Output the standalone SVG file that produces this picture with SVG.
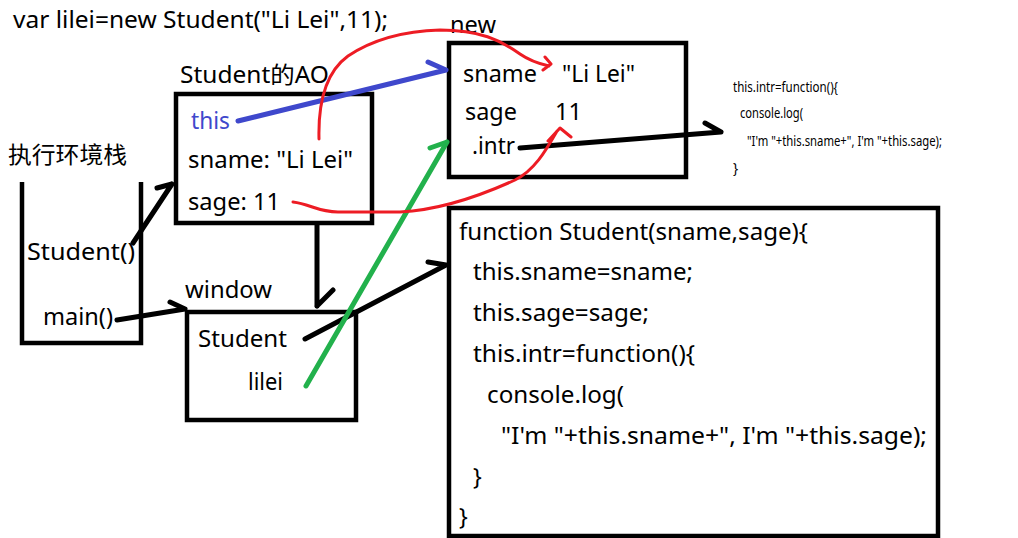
<svg xmlns="http://www.w3.org/2000/svg" width="1018" height="538" viewBox="0 0 1018 538">
<defs>
<style>
text{font-family:"Noto Sans","Noto Sans CJK SC",sans-serif;font-size:23px;fill:#000}
.sm{font-size:13.5px}
.box{fill:none;stroke:#000;stroke-width:4.5}
.k{fill:none;stroke:#000;stroke-width:5;stroke-linecap:round;stroke-linejoin:round}
.b{fill:none;stroke:#3f48cc;stroke-width:5;stroke-linecap:round;stroke-linejoin:round}
.g{fill:none;stroke:#22b14c;stroke-width:5;stroke-linecap:round;stroke-linejoin:round}
.r{fill:none;stroke:#ed1c24;stroke-width:3;stroke-linecap:round;stroke-linejoin:round}
</style>
</defs>
<rect width="1018" height="538" fill="#fff"/>
<text x="13" y="28" textLength="375" lengthAdjust="spacingAndGlyphs">var lilei=new Student("Li Lei",11);</text>

<g id="stack">
<text x="8" y="163" textLength="119" lengthAdjust="spacingAndGlyphs">执行环境栈</text>
<polyline class="box" points="22,182 22,343 141,343 141,182" stroke-width="5"/>
<text x="27" y="260" textLength="108" lengthAdjust="spacingAndGlyphs">Student()</text>
<text x="43" y="325" textLength="70" lengthAdjust="spacingAndGlyphs">main()</text>
</g>

<g id="ao">
<text x="180" y="83" textLength="149" lengthAdjust="spacingAndGlyphs">Student的AO</text>
<rect class="box" x="176" y="94" width="196" height="129"/>
<text x="191" y="129" textLength="39" lengthAdjust="spacingAndGlyphs" style="fill:#3f48cc">this</text>
<text x="188" y="168" textLength="165" lengthAdjust="spacingAndGlyphs">sname: "Li Lei"</text>
<text x="188" y="210" textLength="92" lengthAdjust="spacingAndGlyphs">sage: 11</text>
</g>

<g id="new">
<text x="450" y="33" textLength="46" lengthAdjust="spacingAndGlyphs">new</text>
<rect class="box" x="449" y="43" width="237" height="134"/>
<text x="463" y="82" textLength="74" lengthAdjust="spacingAndGlyphs">sname</text>
<text x="562" y="82" textLength="73" lengthAdjust="spacingAndGlyphs">"Li Lei"</text>
<text x="465" y="120" textLength="52" lengthAdjust="spacingAndGlyphs">sage</text>
<text x="555" y="120" textLength="27" lengthAdjust="spacingAndGlyphs">11</text>
<text x="472" y="154" textLength="43" lengthAdjust="spacingAndGlyphs">.intr</text>
</g>

<g id="intr-code">
<text class="sm" x="733" y="92" textLength="105" lengthAdjust="spacingAndGlyphs">this.intr=function(){</text>
<text class="sm" x="740" y="118" textLength="63" lengthAdjust="spacingAndGlyphs">console.log(</text>
<text class="sm" x="747" y="146" textLength="195" lengthAdjust="spacingAndGlyphs">"I'm "+this.sname+", I'm "+this.sage);</text>
<text class="sm" x="733" y="173">}</text>
</g>

<g id="window">
<text x="185" y="298" textLength="87" lengthAdjust="spacingAndGlyphs">window</text>
<rect class="box" x="187" y="312" width="169" height="108"/>
<text x="198" y="347" textLength="89" lengthAdjust="spacingAndGlyphs">Student</text>
<text x="248" y="390" textLength="35" lengthAdjust="spacingAndGlyphs">lilei</text>
</g>

<g id="function">
<rect class="box" x="449" y="208" width="489" height="328"/>
<text x="459" y="240" textLength="349" lengthAdjust="spacingAndGlyphs">function Student(sname,sage){</text>
<text x="473" y="280" textLength="220" lengthAdjust="spacingAndGlyphs">this.sname=sname;</text>
<text x="473" y="321" textLength="176" lengthAdjust="spacingAndGlyphs">this.sage=sage;</text>
<text x="473" y="362" textLength="222" lengthAdjust="spacingAndGlyphs">this.intr=function(){</text>
<text x="487" y="403" textLength="137" lengthAdjust="spacingAndGlyphs">console.log(</text>
<text x="501" y="444" textLength="426" lengthAdjust="spacingAndGlyphs">"I'm "+this.sname+", I'm "+this.sage);</text>
<text x="473" y="485">}</text>
<text x="459" y="525">}</text>
</g>

<g id="connectors">
<path class="k" d="M133,243 L172,184 M157,188 L172,184"/>
<path class="k" d="M117,320 L185,309 M170,302 L185,309"/>
<path class="k" d="M317,224 L317,306 M333,290 L317,306"/>
<path class="k" d="M305,339 L446,265 M428,262 L446,265"/>
<path class="k" d="M520,148 L721,132 M705,123 L721,132"/>
<path class="b" d="M238,121 L446,70 M428,62 L446,70"/>
<path class="g" d="M306,386 L447,142 M430,148 L447,142"/>
<path class="r" d="M319,139 C318,100 326,72 348,56 C372,40 405,31 440,30 C480,30 500,40 520,54 C530,61 540,64 549,66 M545,57 L551,64 L543,70"/>
<path class="r" d="M293,202 C310,204 318,212 338,212 L400,212 C440,210 480,196 515,180 C535,170 546,150 557,131 M548,141 L560,128 L571,137"/>
</g>
</svg>
